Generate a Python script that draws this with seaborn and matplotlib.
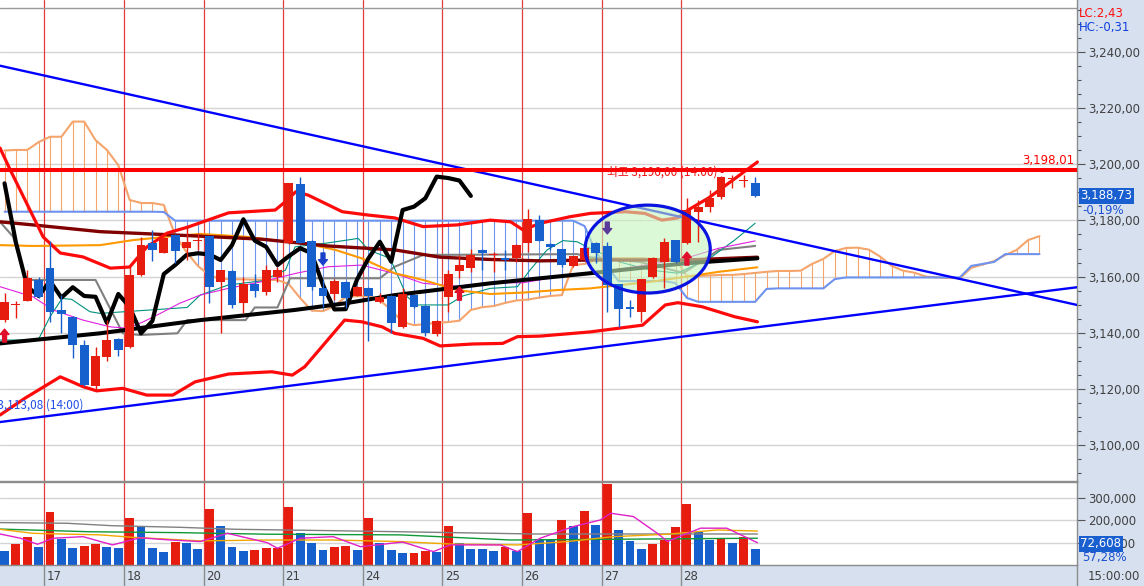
import matplotlib
matplotlib.use('Agg')
import matplotlib.pyplot as plt
import matplotlib.transforms as mtransforms
from matplotlib.patches import Ellipse
from matplotlib.ticker import FuncFormatter, MultipleLocator
import numpy as np
import seaborn as sns

# hourly candles, 7 bars per trading day
opens = [3144.5, 3150.0, 3151.4, 3158.8, 3163.0, 3148.1, 3145.7, 3135.6, 3121.0, 3131.4,
         3137.8, 3135.0, 3160.5, 3171.8, 3168.5, 3174.7, 3170.3, 3172.5, 3174.4, 3158.2,
         3162.1, 3150.5, 3157.3, 3154.6, 3159.7, 3171.8, 3193.0, 3172.8, 3156.0, 3153.7,
         3158.2, 3153.1, 3156.0, 3151.0, 3153.1, 3142.1, 3153.4, 3149.5, 3139.5, 3152.6,
         3162.1, 3163.1, 3169.5, 3167.7, 3166.5, 3166.7, 3171.8, 3180.1, 3171.6, 3169.8,
         3163.8, 3165.9, 3171.8, 3170.9, 3157.3, 3149.2, 3147.5, 3159.7, 3165.3, 3173.0,
         3171.8, 3183.1, 3184.9, 3188.2, 3194.9, 3194.0, 3193.4]
highs = [3154.0, 3151.4, 3162.3, 3160.0, 3172.8, 3153.4, 3145.9, 3137.4, 3135.0, 3144.5,
         3138.0, 3163.5, 3174.1, 3176.6, 3174.0, 3175.0, 3178.4, 3175.5, 3174.6, 3162.5,
         3162.3, 3160.0, 3160.9, 3164.1, 3163.5, 3193.5, 3195.6, 3173.0, 3158.8, 3159.0,
         3158.5, 3156.5, 3156.2, 3154.0, 3153.5, 3155.8, 3153.6, 3150.0, 3144.5, 3162.3,
         3167.7, 3169.8, 3169.8, 3168.9, 3169.5, 3171.5, 3183.9, 3181.9, 3172.0, 3170.0,
         3167.5, 3170.5, 3172.4, 3172.4, 3157.5, 3151.6, 3159.2, 3167.1, 3173.6, 3173.2,
         3187.9, 3187.3, 3190.8, 3195.8, 3196.0, 3196.0, 3195.4]
lows = [3144.0, 3145.1, 3151.2, 3152.5, 3143.9, 3139.8, 3131.1, 3121.2, 3119.6, 3130.0,
        3131.7, 3134.5, 3160.3, 3165.6, 3168.3, 3164.7, 3165.9, 3169.5, 3150.5, 3140.0,
        3148.8, 3146.9, 3152.8, 3153.4, 3158.2, 3171.5, 3171.8, 3155.2, 3149.2, 3151.6,
        3148.7, 3153.0, 3137.1, 3150.5, 3139.8, 3141.8, 3148.9, 3139.0, 3138.8, 3147.5,
        3159.4, 3161.6, 3162.3, 3161.7, 3162.3, 3165.2, 3168.9, 3172.5, 3169.5, 3163.5,
        3163.5, 3165.5, 3164.7, 3147.5, 3142.1, 3145.7, 3143.9, 3159.4, 3155.8, 3165.0,
        3171.5, 3172.4, 3183.1, 3187.5, 3191.4, 3192.0, 3188.2]
closes = [3150.9, 3150.3, 3159.6, 3152.8, 3147.5, 3146.5, 3135.6, 3121.4, 3131.7, 3137.4,
          3133.8, 3160.5, 3171.2, 3169.5, 3173.6, 3169.1, 3172.4, 3172.7, 3156.4, 3162.3,
          3149.9, 3157.3, 3155.0, 3162.3, 3162.3, 3193.2, 3172.1, 3156.4, 3153.1, 3158.4,
          3152.5, 3156.2, 3153.1, 3152.8, 3143.5, 3153.8, 3149.2, 3139.8, 3144.2, 3160.9,
          3164.1, 3167.7, 3168.3, 3167.9, 3165.9, 3171.2, 3180.4, 3172.8, 3170.6, 3164.1,
          3167.3, 3170.1, 3168.3, 3157.0, 3148.3, 3148.4, 3159.0, 3166.5, 3172.4, 3165.3,
          3183.7, 3184.9, 3187.9, 3195.6, 3195.1, 3194.2, 3188.73]
volumes = [64000, 96000, 126000, 81000, 238000, 117000, 76000, 85000, 94000, 81000,
           76000, 211000, 172000, 76000, 60000, 103000, 100000, 72000, 251000, 175000,
           81000, 63000, 65000, 76000, 78000, 260000, 145000, 100000, 67000, 81000,
           85000, 67000, 211000, 99000, 67000, 54000, 56000, 64000, 60000, 176000,
           99000, 73000, 72000, 64000, 82000, 64000, 235000, 117000, 116000, 203000,
           176000, 244000, 181000, 365000, 158000, 109000, 73000, 96000, 113000, 172000,
           274000, 149000, 113000, 118000, 100000, 124000, 72608]

day_labels = ['17', '18', '20', '21', '24', '25', '26', '27', '28']
day_start = [4, 11, 18, 25, 32, 39, 46, 53, 60]

# ichimoku leading spans (shifted forward, one value per bar)
span_orange = [3204.9, 3205.1, 3205.1, 3207.9, 3209.8, 3209.8, 3215.2, 3215.2, 3208.6, 3205.1,
               3199.7, 3187.3, 3186.2, 3186.2, 3185.5, 3174.8, 3168.7, 3163.8, 3160.5, 3159.1,
               3159.1, 3159.0, 3158.9, 3158.8, 3158.8, 3157.3, 3152.3, 3147.9, 3147.7, 3149.5,
               3152.8, 3153.0, 3153.1, 3151.6, 3148.1, 3143.8, 3142.7, 3143.1, 3143.5, 3143.8,
               3144.3, 3148.1, 3149.1, 3149.5, 3150.6, 3151.5, 3151.8, 3152.5, 3153.1, 3153.4,
               3164.1, 3164.5, 3165.9, 3166.6, 3166.6, 3166.6, 3166.6, 3166.3, 3166.3, 3166.3,
               3160.2, 3160.2, 3160.4, 3160.6, 3160.6, 3160.9, 3161.3, 3161.7, 3162.0, 3162.0,
               3162.1, 3164.5, 3166.3, 3169.1, 3170.2, 3170.3, 3169.6, 3167.1, 3163.8, 3162.1,
               3161.4, 3160.0, 3159.7, 3159.5, 3159.4, 3163.1, 3164.3, 3165.5, 3167.7, 3169.5,
               3173.0, 3174.4]
span_blue = ([3183.1] * 14 + [3183.0] + [3179.9] * 36 + [3178.0, 3168.7, 3163.4]
             + [3158.4] * 5 + [3157.7, 3152.4] + [3151.0] * 6 + [3155.6] + [3155.8] * 5
             + [3159.1] + [3159.7] * 11 + [3163.8, 3164.5, 3165.2] + [3168.0] * 4)

# bollinger bands
bb_up_x = [-0.4, 0.5, 3.4, 4.9, 6.9, 9.3, 11.0, 12.5, 14.3, 16.1, 19.7, 23.8, 24.7, 25.6, 26.7,
           29.7, 32.0, 34.3, 36.8, 39.8, 42.7, 44.5, 45.6, 47.1, 49.7, 51.5, 54.6, 56.3, 57.8,
           59.2, 60.1, 61.9, 66.2]
bb_up_y = [3205.8, 3198.0, 3174.1, 3168.4, 3167.0, 3163.0, 3163.4, 3170.5, 3175.5, 3177.6,
           3182.7, 3183.7, 3186.7, 3190.2, 3189.0, 3183.1, 3181.9, 3180.9, 3177.8, 3178.4,
           3180.1, 3179.5, 3176.6, 3179.0, 3181.3, 3182.5, 3183.1, 3182.5, 3180.1, 3180.9,
           3183.7, 3188.0, 3200.8]
bb_lo_x = [-0.4, 1.8, 4.9, 6.9, 8.1, 10.4, 12.5, 14.8, 16.75, 19.7, 23.5, 25.3, 26.4, 27.9,
           29.9, 31.4, 33.2, 34.3, 36.8, 38.3, 41.2, 43.8, 45.1, 47.1, 51.5, 56.1, 58.1, 59.2,
           61.3, 64.2, 66.2]
bb_lo_y = [3110.7, 3116.7, 3124.3, 3120.8, 3119.3, 3120.2, 3117.8, 3117.8, 3122.5, 3125.3,
           3126.1, 3124.9, 3127.9, 3135.0, 3144.5, 3143.9, 3142.1, 3139.8, 3138.0, 3135.3,
           3136.0, 3136.2, 3138.6, 3138.8, 3140.3, 3142.7, 3149.9, 3150.7, 3149.3, 3145.7,
           3143.9]

# moving averages / ichimoku base & conversion lines
ma_long_x = [-0.4, 8.4, 17.2, 25.5, 30.0, 34.3, 42.7, 51.5, 59.8, 66.2]
ma_long_y = [3136.2, 3139.8, 3144.5, 3148.1, 3150.5, 3153.4, 3157.6, 3161.2, 3164.7, 3166.5]
ma_mid_x = [-0.4, 2.5, 8.4, 17.2, 22.65, 28.45, 34.3, 38.3, 42.7, 47.1, 51.5, 59.85, 66.2]
ma_mid_y = [3179.5, 3178.4, 3176.0, 3174.4, 3173.3, 3170.9, 3169.5, 3166.9, 3166.1, 3165.6,
            3165.9, 3165.9, 3166.9]
ma_20_x = [-0.4, 2.5, 8.4, 11.3, 14.3, 17.2, 21.2, 24.7, 26.4, 29.1, 31.4, 34.3, 36.8, 39.8,
           42.7, 45.6, 48.6, 51.5, 56.9, 59.85, 62.8, 66.2]
ma_20_y = [3171.2, 3170.9, 3171.2, 3173.0, 3174.2, 3175.2, 3174.2, 3172.4, 3171.8, 3169.5,
           3166.5, 3161.2, 3158.8, 3155.2, 3153.8, 3154.3, 3155.2, 3155.8, 3158.2, 3159.9,
           3161.7, 3163.3]
kijun_x = [-0.4, 0.75, 1.9, 8.0, 10.4, 11.9, 15.2, 16.05, 21.2, 22.0, 24.0, 25.1, 33.0, 34.3,
           36.8, 50.35, 51.5, 55.9, 59.7, 62.8, 66.0]
kijun_y = [3179.5, 3174.2, 3158.8, 3158.8, 3139.8, 3139.2, 3139.8, 3144.5, 3144.5, 3149.0,
           3149.0, 3159.4, 3159.4, 3163.5, 3167.7, 3168.0, 3166.9, 3165.2, 3161.3, 3169.5,
           3170.9]
tenkan_x = [-0.4, 2.95, 4.0, 5.06, 5.9, 7.5, 8.4, 12.8, 16.05, 17.2, 19.66, 22.65, 24.7, 25.55,
            28.45, 31.1, 32.0, 33.9, 35.4, 36.3, 39.0, 40.3, 42.7, 45.1, 46.2, 47.7, 49.1,
            50.35, 51.2, 54.1, 56.8, 59.2, 62.2, 64.2, 66.0]
tenkan_y = [3137.4, 3137.4, 3145.7, 3152.2, 3151.9, 3147.5, 3146.9, 3148.1, 3149.0, 3153.4,
            3157.0, 3158.5, 3162.3, 3170.6, 3172.0, 3173.6, 3169.5, 3166.5, 3152.8, 3149.9,
            3149.9, 3153.1, 3155.8, 3156.4, 3162.3, 3169.5, 3172.8, 3172.4, 3170.6, 3165.2,
            3162.3, 3161.2, 3167.1, 3173.0, 3179.0]
ma_5_x = [-0.4, 2.5, 4.27, 6.9, 9.28, 10.8, 12.2, 13.7, 15.4, 17.2, 19.66, 22.65, 25.55, 28.45,
          31.4, 34.3, 36.8, 39.8, 42.7, 45.6, 48.6, 51.5, 55.9, 59.85, 62.8, 66.0]
ma_5_y = [3156.4, 3152.8, 3148.1, 3144.5, 3142.1, 3141.6, 3143.9, 3146.9, 3150.5, 3153.4,
          3155.8, 3158.2, 3161.1, 3163.5, 3164.1, 3161.1, 3157.6, 3156.6, 3157.8, 3157.8,
          3159.9, 3161.1, 3163.8, 3166.5, 3170.1, 3172.7]
LAG = 25

# volume moving averages
vma_gray_x = [-0.4, 5.5, 9.5, 15.4, 20.4, 28.6, 34.8, 46.5, 66.2]
vma_gray_y = [190000, 187000, 176000, 169000, 160000, 154000, 149000, 139000, 139000]
vma_green_x = [-0.4, 7.5, 15.4, 23.1, 34.8, 44.5, 52.4, 66.2]
vma_green_y = [161000, 149000, 145000, 138000, 135000, 112000, 115000, 120000]
vma_orange_x = [-0.4, 2.5, 8.4, 11.3, 17.2, 23.1, 28.9, 34.8, 39.2, 45.1, 49.5, 53.5, 58.3,
                62.7, 66.2]
vma_orange_y = [160000, 142000, 135000, 124000, 108000, 112000, 112000, 105000, 94000, 90000,
                105000, 127000, 138000, 157000, 152000]
vma_mag_x = [-0.4, 1.4, 2.9, 4.3, 6.9, 9.5, 11.9, 14.6, 17.2, 19.6, 23.1, 24.0, 26.0, 28.9,
             31.3, 35.0, 37.7, 39.2, 43.6, 45.1, 47.1, 50.0, 52.4, 53.3, 55.3, 57.4, 58.3,
             59.7, 61.2, 63.5, 66.2]
vma_mag_y = [139000, 120000, 93000, 120000, 127000, 90000, 122000, 112000, 105000, 142000,
             100000, 75000, 120000, 127000, 82000, 103000, 60000, 90000, 90000, 60000, 120000,
             172000, 202000, 232000, 217000, 142000, 105000, 135000, 165000, 165000, 100000]

# drawn annotations
trend_x = [-0.4, 94.3]
trend_down_y = [3235.1, 3149.9]
trend_up_y = [3108.2, 3156.2]
resist = 3198.01
hi_val, lo_val = 3196.00, 3113.08
arrow_x = [0, 28, 40, 53, 60]
arrow_tail = [3136.7, 3168.4, 3151.6, 3179.4, 3164.1]
arrow_tip = [3141.3, 3164.1, 3156.3, 3175.2, 3168.7]
arrow_color = ['#e0102a', '#1a3fc8', '#e0102a', '#5a3a9a', '#e0102a']

sns.set_theme(style='white')
plt.rcParams['font.family'] = ['DejaVu Sans', 'Noto Sans CJK KR']
KR = ['Noto Sans CJK KR', 'DejaVu Sans']

RED, BLUE = '#e61c0e', '#1560cc'
PANEL = '#d6e0ee'
W, H = 1144, 586


def kfmt(v):
    return f'{v:,.2f}'.replace('.', ',')


fig = plt.figure(figsize=(W / 100, H / 100), dpi=100, facecolor=PANEL)
ax = fig.add_axes([0, 105 / H, 1077 / W, 481 / H])
axv = fig.add_axes([0, 21 / H, 1077 / W, 83 / H], sharex=ax)
axd = fig.add_axes([0, 0, 1077 / W, 21 / H], sharex=ax)

idx = np.arange(len(closes))
o, hi, lo, c = map(np.array, (opens, highs, lows, closes))
vol = np.array(volumes)

# day separators
for s in day_start:
    ax.axvline(s - 0.5, color='#e23c3c', lw=0.9, zorder=1.5)
    axv.axvline(s - 0.5, color='#e23c3c', lw=0.9, zorder=1.5)
    axd.axvline(s - 0.5, color='#8c8c8c', lw=1)

# ichimoku cloud
so, sb = np.array(span_orange), np.array(span_blue)
cidx = np.arange(len(so))
hatch = np.where(so >= sb, '#f5a46c', '#6e93ee')
ax.vlines(cidx, np.minimum(so, sb), np.maximum(so, sb), colors=hatch, lw=0.8, zorder=2)
sns.lineplot(x=cidx, y=so, ax=ax, color='#f5a46c', lw=1.5, zorder=2.2, estimator=None)
sns.lineplot(x=cidx, y=sb, ax=ax, color='#6e93ee', lw=1.5, zorder=2.2, estimator=None)

# indicator lines
for xs, ys, col, lw, z in [
    (kijun_x, kijun_y, '#808080', 1.5, 3.0),
    (tenkan_x, tenkan_y, '#00927e', 0.8, 3.1),
    (ma_5_x, ma_5_y, '#e020e0', 0.8, 3.1),
    (ma_20_x, ma_20_y, '#ff9900', 1.5, 3.2),
    (ma_mid_x, ma_mid_y, '#800000', 2.4, 3.3),
    (ma_long_x, ma_long_y, '#000000', 2.9, 3.4),
    (bb_up_x, bb_up_y, '#ff0a0a', 2.3, 3.5),
    (bb_lo_x, bb_lo_y, '#ff0a0a', 2.3, 3.5),
]:
    sns.lineplot(x=xs, y=ys, ax=ax, color=col, lw=lw, zorder=z, estimator=None)

# lagging span
sns.lineplot(x=idx[:len(idx) - LAG], y=c[LAG:], ax=ax, color='black', lw=3,
             zorder=3.6, estimator=None)

# trend lines
sns.lineplot(x=trend_x, y=trend_down_y, ax=ax, color='#0000ff', lw=1.7, zorder=4, estimator=None)
sns.lineplot(x=trend_x, y=trend_up_y, ax=ax, color='#0000ff', lw=1.7, zorder=4, estimator=None)

# highlight ellipse
ell_c, ell_w, ell_h = (56.55, 3169.8), 11.0, 31.3
ax.add_patch(Ellipse(ell_c, ell_w, ell_h, facecolor='#c6f5bd', edgecolor='none',
                     alpha=0.6, zorder=4.5))
ax.add_patch(Ellipse(ell_c, ell_w, ell_h, fill=False, edgecolor='#0a14e0', lw=2.3, zorder=8))

# candles
ccol = np.where(c >= o, RED, BLUE)
ax.vlines(idx, lo, hi, colors=ccol, lw=1, zorder=5)
ax.bar(idx, np.maximum(np.abs(c - o), 0.35), bottom=np.minimum(o, c), width=0.78,
       color=ccol, lw=0, zorder=6)

# resistance line
ax.axhline(resist, color='#ff0000', lw=2.9, zorder=7)

# signal arrows
for x, t0, t1, col in zip(arrow_x, arrow_tail, arrow_tip, arrow_color):
    ax.annotate('', xy=(x, t1), xytext=(x, t0),
                arrowprops=dict(arrowstyle='simple,head_width=0.9,head_length=0.55,tail_width=0.4',
                                fc=col, ec=col, mutation_scale=7, shrinkA=0, shrinkB=0),
                zorder=8)

# labels on chart
ax.text(53.0, hi_val, f'최고 {kfmt(hi_val)} (14:00) -', color='#ee1111', fontsize=8.5,
        family=KR, ha='left', va='baseline', zorder=9)
ax.text(6.9, lo_val, f'최저 {kfmt(lo_val)} (14:00)', color='#1f4fe8', fontsize=8.5,
        family=KR, ha='right', va='baseline', zorder=9, clip_on=False)

tr = mtransforms.blended_transform_factory(ax.transAxes, ax.transData)
ax.annotate(kfmt(resist), xy=(1, resist), xycoords=tr, xytext=(-2, 2),
            textcoords='offset points', ha='right', va='bottom', color='#ff0000',
            fontsize=8.5, zorder=9)

# main axis styling
ax.set_facecolor('white')
ax.set_yticks(np.arange(3100, 3241, 20))
ax.yaxis.set_minor_locator(MultipleLocator(5))
ax.yaxis.tick_right()
ax.yaxis.set_major_formatter(FuncFormatter(lambda v, p: kfmt(v)))
ax.tick_params(axis='y', which='major', direction='out', length=6, width=0.8,
               color='#555555', labelcolor='#404040', labelsize=8.5, pad=2,
               right=True, left=False)
ax.tick_params(axis='y', which='minor', direction='out', length=3, width=0.8,
               color='#555555', right=True, left=False)
ax.tick_params(axis='x', bottom=False, labelbottom=False)
ax.grid(axis='y', which='major', color='#d4d4d4', lw=1)
ax.grid(axis='x', visible=False)
ax.set_axisbelow(True)
ax.plot([0, 1], [0.983, 0.983], transform=ax.transAxes, color='#9a9a9a', lw=1)
for name, sp in ax.spines.items():
    sp.set_visible(name in ('right', 'bottom'))
    sp.set_color('#8c8c8c')
    sp.set_linewidth(1)
ax.set_xlabel('')
ax.set_ylabel('')

# current price box
ax.annotate(kfmt(c[-1]), xy=(1, c[-1]), xycoords=tr, xytext=(2.5, 0),
            textcoords='offset points', ha='left', va='center', color='white',
            fontsize=8.5, bbox=dict(boxstyle='square,pad=0.15', fc='#1a5fd0', ec='none'),
            annotation_clip=False, zorder=10)
ax.annotate('-0,19%', xy=(1, c[-1]), xycoords=tr, xytext=(4, -6),
            textcoords='offset points', ha='left', va='top', color='#1a50d0',
            fontsize=8.5, annotation_clip=False, zorder=10)
fig.text(1079 / W, 1 - 14 / H, 'LC:2,43', color='#ff1010', fontsize=8.5, va='center')
fig.text(1079 / W, 1 - 28 / H, 'HC:-0,31', color='#1040e0', fontsize=8.5, va='center')

# volume panel
vcol = [BLUE] + [RED if vol[i] > vol[i - 1] else BLUE for i in range(1, len(vol))]
axv.bar(idx, vol, width=0.78, color=vcol, lw=0, zorder=3)
for xs, ys, col in [(vma_gray_x, vma_gray_y, '#808080'),
                    (vma_green_x, vma_green_y, '#109838'),
                    (vma_orange_x, vma_orange_y, '#f0a800'),
                    (vma_mag_x, vma_mag_y, '#e020c8')]:
    sns.lineplot(x=xs, y=ys, ax=axv, color=col, lw=1, zorder=4, estimator=None)
axv.set_facecolor('white')
axv.set_ylim(0, 372000)
axv.set_yticks([100000, 200000, 300000])
axv.yaxis.tick_right()
axv.yaxis.set_major_formatter(FuncFormatter(lambda v, p: f'{int(v):,}'))
axv.tick_params(axis='y', direction='out', length=6, width=0.8, color='#555555',
                labelcolor='#404040', labelsize=8.5, pad=2, right=True, left=False)
axv.tick_params(axis='x', bottom=False, labelbottom=False)
axv.grid(axis='y', color='#d4d4d4', lw=1)
axv.grid(axis='x', visible=False)
axv.set_axisbelow(True)
for name, sp in axv.spines.items():
    sp.set_visible(name in ('right', 'top'))
    sp.set_color('#8c8c8c')
    sp.set_linewidth(1)
axv.set_xlabel('')
axv.set_ylabel('')
trv = mtransforms.blended_transform_factory(axv.transAxes, axv.transData)
axv.annotate(f'{vol[-1]:,}', xy=(1, vol[-1]), xycoords=trv, xytext=(2.5, 3.5),
             textcoords='offset points', ha='left', va='center', color='white',
             fontsize=8.5, bbox=dict(boxstyle='square,pad=0.15', fc='#1a5fd0', ec='none'),
             annotation_clip=False, zorder=10)
axv.annotate('57,28%', xy=(1, vol[-1]), xycoords=trv, xytext=(4, -6),
             textcoords='offset points', ha='left', va='center', color='#1a50d0',
             fontsize=8.5, annotation_clip=False, zorder=10)

# date strip
axd.set_facecolor(PANEL)
axd.set_ylim(0, 1)
trd = mtransforms.blended_transform_factory(axd.transData, axd.transAxes)
for s, lab in zip(day_start, day_labels):
    axd.text(s - 0.3, 0.45, lab, transform=trd, ha='left', va='center',
             color='#404040', fontsize=8.5)
axd.tick_params(axis='both', bottom=False, left=False, right=False,
                labelbottom=False, labelleft=False, labelright=False)
axd.grid(False)
for name, sp in axd.spines.items():
    sp.set_visible(name in ('right', 'top'))
    sp.set_color('#8c8c8c')
    sp.set_linewidth(1)
fig.text(1088 / W, 1 - 576 / H, '15:00:00', color='#404040', fontsize=8.5, va='center')

ax.set_xlim(-0.4, 94.3)
ax.set_ylim(3087.2, 3258.5)

fig.savefig('out.png', dpi=100, facecolor=PANEL)
